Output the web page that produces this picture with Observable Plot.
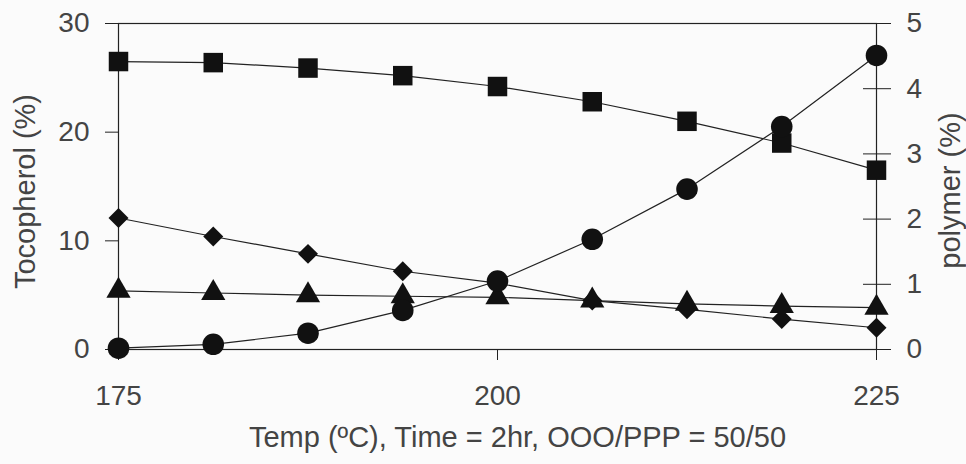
<!DOCTYPE html>
<html>
<head>
<meta charset="utf-8">
<script src="https://cdn.jsdelivr.net/npm/d3@7"></script>
<script src="https://cdn.jsdelivr.net/npm/@observablehq/plot@0.6"></script>
<style>
  html, body { margin: 0; padding: 0; background: #fbfbfb; }
  svg { font-family: "Liberation Sans", Arial, sans-serif; }
</style>
</head>
<body>
<div id="chart"></div>
<script>
// Temperature (ºC)
const temps = [175, 181.25, 187.5, 193.75, 200, 206.25, 212.5, 218.75, 225];
// Tocopherol (%) series, left axis
const squareVals  = [26.5, 26.4, 25.9, 25.2, 24.2, 22.8, 21.0, 19.0, 16.5];
const diamondVals = [12.1, 10.4, 8.8, 7.2, 6.1, 4.5, 3.7, 2.8, 2.0];
const triangleVals = [5.4, 5.2, 5.0, 4.9, 4.8, 4.5, 4.2, 4.0, 3.85];
// Polymer (%) series, right axis
const circleVals = [0.02, 0.08, 0.25, 0.6, 1.05, 1.69, 2.46, 3.42, 4.51];

const leftTicks = [0, 10, 20, 30];
const rightTicks = [0, 1, 2, 3, 4, 5];
const xTicks = [175, 200, 225];

const leftMax = 30, rightMax = 5;
const k = leftMax / rightMax; // map right axis onto left scale

const mk = (vals, symbol, scale) => temps.map((t, i) => ({t, v: vals[i] * scale, symbol}));
const sq = mk(squareVals, "square", 1);
const di = mk(diamondVals, "diamond2", 1);
const tr = mk(triangleVals, "triangle", 1);
const ci = mk(circleVals, "circle", k);

const ink = "#222";
const txt = "#444";
const fs = 28;
const lfs = 29;

const chart = Plot.plot({
  width: 966,
  height: 464,
  marginLeft: 118,
  marginRight: 90,
  marginTop: 23,
  marginBottom: 115,
  style: {background: "#fbfbfb", fontFamily: "Liberation Sans, Arial, sans-serif"},
  x: {domain: [175, 225]},
  y: {domain: [0, leftMax]},
  marks: [
    Plot.frame({stroke: ink, strokeWidth: 1.2}),
    Plot.axisY({anchor: "left", ticks: leftTicks, tickSize: 13, tickPadding: 16, fontSize: fs, color: txt, stroke: ink, label: null}),
    Plot.axisY({anchor: "right", ticks: rightTicks.map(d => d * k), tickFormat: d => d / k, tickSize: 28, dx: -14, tickPadding: 16, fontSize: fs, color: txt, stroke: ink, label: null}),
    Plot.axisX({ticks: xTicks, tickSize: 11, tickPadding: 25, fontSize: fs, color: txt, stroke: ink, label: null}),
    Plot.line(sq, {x: "t", y: "v", stroke: ink, strokeWidth: 1.2}),
    Plot.line(di, {x: "t", y: "v", stroke: ink, strokeWidth: 1.2}),
    Plot.line(tr, {x: "t", y: "v", stroke: ink, strokeWidth: 1.2}),
    Plot.line(ci, {x: "t", y: "v", stroke: ink, strokeWidth: 1.2}),
    Plot.dot(di, {x: "t", y: "v", symbol: "diamond2", r: 9, fill: "#111"}),
    Plot.dot(tr, {x: "t", y: "v", symbol: "triangle", r: 9, fill: "#111"}),
    Plot.dot(sq, {x: "t", y: "v", symbol: "square", r: 11, fill: "#111"}),
    Plot.dot(ci, {x: "t", y: "v", symbol: "circle", r: 10.8, fill: "#111"}),
    Plot.text(["Tocopherol (%)"], {frameAnchor: "left", textAnchor: "middle", dx: -93, dy: 5, rotate: -90, fontSize: lfs, fill: txt}),
    Plot.text(["polymer (%)"], {frameAnchor: "right", textAnchor: "middle", dx: 74, dy: 4, rotate: -90, fontSize: lfs, fill: txt}),
    Plot.text(["Temp (ºC), Time = 2hr, OOO/PPP = 50/50"], {frameAnchor: "bottom", dx: 20, dy: 97, fontSize: lfs, fill: txt})
  ]
});
document.getElementById("chart").appendChild(chart);
</script>
</body>
</html>
